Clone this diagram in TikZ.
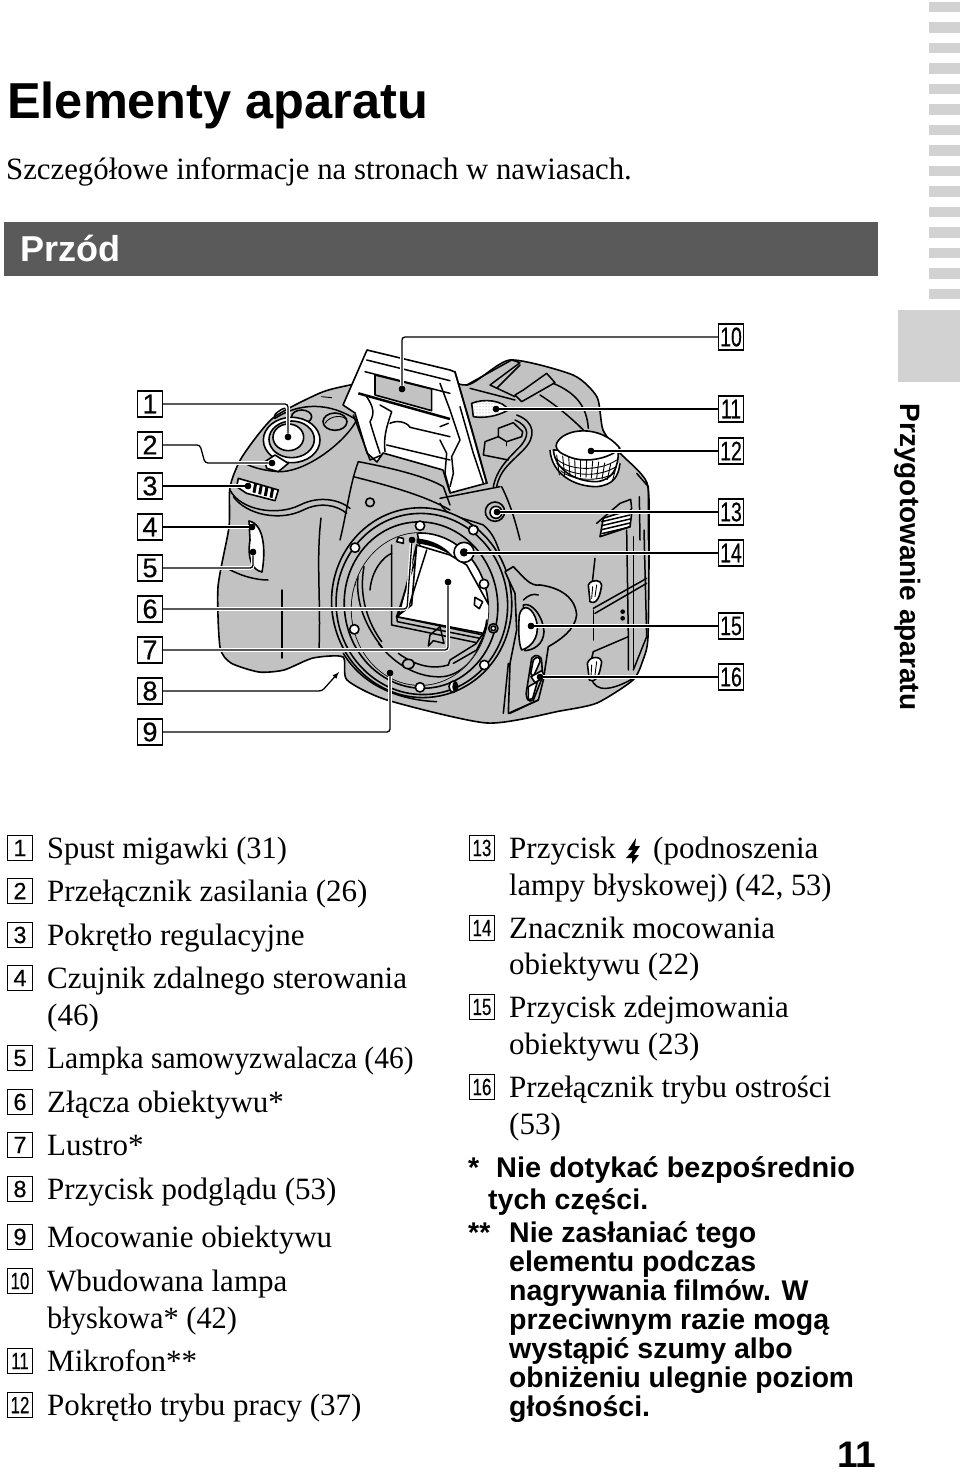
\documentclass[tikz,border=0pt]{standalone}
\usepackage{fontspec}
\usetikzlibrary{patterns}
\setmainfont{Liberation Serif}
\setsansfont{Liberation Sans}
\newfontfamily\numfont[FakeBold=.35]{Liberation Sans}
\definecolor{bargray}{HTML}{5A5A5A}
\definecolor{tabgray}{HTML}{D2D2D2}
\definecolor{camgray}{HTML}{C2C2C2}
\tikzset{
	callout/.style={draw,line width=1.2pt,minimum width=25pt,minimum height=26pt,inner sep=0pt,font=\numfont\fontsize{27}{27}\selectfont},
	listbox/.style={draw,line width=.9pt,minimum width=25pt,minimum height=24.5pt,inner sep=0pt,font=\numfont\fontsize{23.5}{23.5}\selectfont},
	listtext/.style={anchor=base west,inner sep=0pt,font=\fontsize{31}{31}\selectfont},
	notetext/.style={anchor=base west,inner sep=0pt,font=\sffamily\bfseries\fontsize{28.5}{28.5}\selectfont},
	tipdot/.style={circle,fill,inner sep=0pt,minimum size=6.5pt},
	leader/.style={line width=1.3pt,rounded corners=3pt,preaction={draw=white,line width=3.6pt}},
	cam/.style={draw,line width=1.6pt,line join=round,fill=camgray},
	camwhite/.style={draw,line width=1.6pt,line join=round,fill=white},
	camline/.style={draw,line width=1.5pt,line cap=round,line join=round},
	thinline/.style={draw,line width=.9pt,line cap=round},
	zoomA/.style={shift={(210,340)},scale=1/3},
	zoomB/.style={shift={(440,340)},scale=1/3},
	zoomC/.style={shift={(320,510)},scale=1/3},
	zoomD/.style={shift={(500,530)},scale=1/3}
}
\newcommand{\nar}[1]{\scalebox{.72}[1]{#1}}
\begin{document}
\begin{tikzpicture}[x=1pt,y=-1pt]
\useasboundingbox (0,0) rectangle (960,1475);
% page furniture
\foreach \i in {0,...,14}
	\fill[tabgray] (929,{1.7+20.5*\i}) rectangle (960,{12.4+20.5*\i});
\fill[tabgray] (898,310) rectangle (960,382);
\node[rotate=-90,font=\sffamily\bfseries\fontsize{28}{28}\selectfont,inner sep=0pt] (side) at (908,557) {Przygotowanie aparatu};
\node[anchor=base west,inner sep=0pt,font=\sffamily\bfseries\fontsize{50.5}{50.5}\selectfont] (title) at (7,118) {Elementy aparatu};
\node[listtext] (sub) at (6,179) {\scalebox{.993}[1]{Szczegółowe informacje na stronach w nawiasach.}};
\fill[bargray] (4,222) rectangle (878,276);
\node[anchor=base west,inner sep=0pt,text=white,font=\sffamily\bfseries\fontsize{36}{36}\selectfont] (front) at (20,261) {Przód};
\node[anchor=base,inner sep=0pt,font=\sffamily\bfseries\fontsize{37}{37}\selectfont] (page) at (857,1467) {11};

% camera body
\path[cam] plot[smooth cycle,tension=.4] coordinates {(273,418) (320,393) (350,385) (420,372) (467,385) (510,360) (573,375) (597,397) (603,430) (620,453) (647,483) (649,540) (648,637) (643,660) (633,680) (597,703) (560,711) (487,723) (387,700) (347,680) (343,657) (313,658) (284,670) (259,672) (231,663) (220,647) (218,587) (229,527) (230,487) (242,457)};

% right shoulder
\begin{scope}[zoomB]
\draw[camline] (80,135) -- (215,60) -- (240,68) -- (150,135) -- (225,170);
\draw[camline] (170,145) -- (240,75);
\draw[camline] (225,165) -- (245,185) -- (345,128) -- (320,100) -- (250,150) -- cycle;
\draw[camline] (90,145) -- (225,180);
\draw[camline] (340,130) .. controls (410,160) and (440,200) .. (445,265);
\draw[camline] (300,165) .. controls (340,190) and (390,230) .. (430,270);
\path[camwhite] (95,190) .. controls (130,175) and (190,180) .. (205,210) .. controls (170,230) and (130,235) .. (100,230) -- cycle;
\fill[pattern=dots,pattern color=gray] (95,190) .. controls (130,175) and (190,180) .. (205,210) .. controls (170,230) and (130,235) .. (100,230) -- cycle;
\draw[camline] (230,225) .. controls (285,245) and (290,290) .. (250,330) .. controls (210,370) and (180,390) .. (170,440);
\draw[camline] (225,240) .. controls (270,260) and (270,290) .. (235,325) .. controls (200,360) and (170,390) .. (160,440);
\draw[camline] (175,265) -- (220,248) -- (248,275) -- (245,290) -- (200,305) -- (175,290) -- cycle;
\draw[camline] (175,290) -- (135,305) -- (130,345) -- (205,360);
\draw[thinline] (200,305) -- (200,318);
% mode dial
\path[camwhite] (330,330) .. controls (335,400) and (400,440) .. (470,440) .. controls (520,435) and (535,410) .. (540,370);
\path[camwhite] (340,330) .. controls (345,385) and (400,425) .. (470,425) .. controls (520,420) and (535,380) .. (535,335) -- cycle;
\foreach \k in {0,...,10}
	\draw[thinline] ({350+18*\k},{345+\k*3}) -- ({358+16*\k},{405+\k*1.5});
\draw[thinline] (343,350) .. controls (380,395) and (480,395) .. (530,360);
\draw[thinline] (350,370) .. controls (390,412) and (480,412) .. (528,380);
\draw[thinline] (362,392) .. controls (400,425) and (480,425) .. (522,400);
\path[camwhite] (350,310) .. controls (370,265) and (480,250) .. (540,325) .. controls (510,355) and (430,375) .. (375,345) .. controls (350,335) and (345,320) .. cycle;
% strap lug
\draw[camline] (470,550) -- (540,490) -- (572,478) -- (575,505) -- (550,540);
\path[camwhite] (490,535) .. controls (520,525) and (560,510) .. (575,520) -- (570,560) -- (480,590) -- cycle;
\foreach \k in {0,...,3}
	\draw[camline] ({485},{545+\k*12}) -- (570,{525+\k*12});
\draw[camline] (590,400) -- (625,440) -- (625,600);
\draw[camline] (598,470) -- (600,600);
% flash button
\path[cam] (165,515) circle [radius=29];
\path[camwhite] (168,517) circle [radius=18];
\draw[camline] (185,440) .. controls (215,500) and (230,560) .. (240,600);
\end{scope}

% left shoulder
\begin{scope}[zoomA]
\draw[thinline] (335,170) -- (365,173);
\draw[camline] (195,235) .. controls (290,175) and (380,200) .. (440,240) .. controls (410,300) and (300,390) .. (215,395) .. controls (180,395) and (130,385) .. (105,370);
\draw[camline] (195,235) .. controls (185,225) and (215,205) .. (225,205);
\path[cam] (275,230) ellipse [x radius=30,y radius=20];
\path[cam] (375,245) ellipse [x radius=36,y radius=26];
\draw[thinline] (345,250) .. controls (360,225) and (400,225) .. (408,238);
\path[camwhite] (245,300) ellipse [x radius=85,y radius=68];
\path[cam] (245,298) ellipse [x radius=68,y radius=55];
\path[camwhite] (235,292) ellipse [x radius=46,y radius=40];
\path[camwhite] (165,365) -- (195,345) -- (235,370) -- (205,395) -- (170,385) -- cycle;
\path[camwhite] (85,415) -- (205,450) -- (195,482) -- (110,460) -- (80,440) -- cycle;
\foreach \k in {0,...,3}
	\draw[line width=3pt] ({137+17*\k},{430+5*\k}) -- ({132+17*\k},{458+5*\k});
\draw[camline] (60,450) .. controls (90,510) and (200,530) .. (270,495) .. controls (330,465) and (390,480) .. (420,505);
\draw[camline] (70,470) .. controls (110,525) and (210,545) .. (280,510) .. controls (330,485) and (380,495) .. (410,520);
\end{scope}

% grip
\path[camwhite] (249,521) .. controls (264,524) and (266,550) .. (262,572) .. controls (252,570) and (247,558) .. (250,540) -- cycle;
\draw[camline] (321,518) .. controls (316,560) and (321,600) .. (319,650);
\draw[camline] (282,590) -- (282,658);
\draw[camline] (225,567) .. controls (240,576) and (256,580) .. (268,580);

% right side
\begin{scope}[zoomD]
\draw[camline] (285,85) -- (275,175);
\draw[camline] (280,235) -- (440,145);
\draw[camline] (285,250) -- (440,160);
\draw[camline] (280,240) -- (280,330);
\draw[camline] (280,365) -- (385,320);
\draw[camline] (280,365) -- (275,385);
\draw[camline] (380,0) -- (385,320) -- (385,420);
\draw[camline] (400,20) -- (400,415);
\draw[camline] (432,0) -- (440,320) -- (400,420);
\draw[camline] (275,445) .. controls (285,490) and (340,480) .. (400,445);
\path[camwhite] (265,165) .. controls (275,145) and (305,150) .. (305,165) .. controls (300,200) and (290,225) .. (270,215) -- cycle;
\draw[thinline] (278,170) -- (275,205) (290,165) -- (285,200);
\path[camwhite] (262,400) .. controls (270,375) and (305,380) .. (305,395) .. controls (300,430) and (290,460) .. (268,450) -- cycle;
\draw[thinline] (275,405) -- (273,440) (290,395) -- (285,435);
\fill (368,245) circle [radius=7];
\fill (368,265) circle [radius=7];
\end{scope}

% front plate
\begin{scope}[zoomA]
\draw[camline] (445,365) .. controls (550,385) and (650,410) .. (700,440) -- (720,495);
\draw[camline] (445,365) .. controls (420,430) and (410,520) .. (390,600);
\draw[camline] (430,410) .. controls (550,440) and (650,470) .. (720,510);
\path[cam] (480,487) circle [radius=13];
\end{scope}
\begin{scope}[zoomB]
\draw[camline] (0,475) -- (180,440);
\draw[camline] (0,490) .. controls (20,530) and (60,530) .. (130,555) .. controls (160,580) and (170,610) .. (180,640);
\path[cam] (102,570) circle [radius=13];
\end{scope}

% flash
\path[camwhite] (343,405) -- (367,350) -- (450,370) -- (455,372) -- (472,430) -- (487,483) -- (450,493) -- (443,470) -- (383,453) -- (377,462) -- (367,453) -- (355,413) -- cycle;
\begin{scope}[zoomA]
\path[cam] (495,105) -- (665,147) -- (665,212) -- (495,165) -- cycle;
\draw[camline] (470,60) -- (720,122);
\draw[camline] (465,95) -- (720,160);
\draw[line width=2.5pt] (445,160) -- (720,237);
\draw[camline] (470,170) .. controls (490,200) and (495,220) .. (480,245) .. controls (490,280) and (500,310) .. (510,340);
\draw[camline] (510,195) -- (545,215) .. controls (530,260) and (520,290) .. (525,335);
\draw[camline] (540,250) .. controls (560,240) and (590,245) .. (600,262) -- (720,290);
\draw[camline] (530,315) -- (720,360);
\draw[camline] (430,225) -- (480,360) -- (515,345);
\end{scope}
\begin{scope}[zoomB]
\draw[camline] (45,95) -- (95,270) -- (140,430);
\draw[camline] (60,200) -- (100,340) -- (130,430);
\draw[camline] (0,130) -- (30,210) -- (60,300) -- (35,350) -- (40,400) -- (30,440);
\draw[camline] (0,260) -- (25,250) (0,300) -- (20,340) -- (15,400) -- (30,455);
\end{scope}

% lens mount
\begin{scope}[zoomC]
\path[cam,rotate around={8:(305,278)}] (305,278) ellipse [x radius=270,y radius=285];
\path[cam,rotate around={8:(305,278)}] (305,282) ellipse [x radius=257,y radius=272];
\draw[camline] (70,430) .. controls (130,530) and (240,570) .. (350,575);
\path[cam,rotate around={8:(305,285)}] (303,285) ellipse [x radius=230,y radius=250];
\path[camwhite] (300,297) ellipse [x radius=205,y radius=228];
\begin{scope}
\clip (300,297) ellipse [x radius=205,y radius=228];
\path[cam] (80,60) -- (290,60) -- (300,110) -- (230,320) -- (490,375) -- (540,330) -- (540,540) -- (80,540) -- cycle;
\path[camwhite] (290,105) -- (390,135) -- (440,165) -- (515,300) -- (490,370) -- (230,320) -- (275,285) -- cycle;
\draw[camline] (215,105) -- (215,345) -- (470,398) -- (490,370);
\draw[camline] (230,320) -- (232,335) -- (480,385);
\draw[camline] (290,105) -- (235,320);
\draw[camline] (320,120) -- (268,285) -- (230,320);
\draw[camline] (105,225) .. controls (110,170) and (150,110) .. (225,80);
\draw[camline] (118,170) .. controls (100,260) and (130,340) .. (185,410);
\draw[camline] (132,170) .. controls (115,260) and (145,340) .. (185,395);
\draw[camline] (150,240) .. controls (155,180) and (190,140) .. (215,130);
\draw[camline] (175,400) .. controls (230,470) and (300,505) .. (370,500) .. controls (440,490) and (490,420) .. (500,330);
\draw[camline] (235,430) .. controls (290,470) and (340,478) .. (385,465) -- (390,450) -- (470,400);
\draw[camline] (400,460) -- (470,420) -- (490,380);
\draw[camline] (330,375) -- (360,350) -- (372,400) -- (340,392) -- (325,408) -- (330,375);
\path[cam] (265,462) ellipse [x radius=18,y radius=14];
\path[camwhite] (465,262) -- (488,275) -- (478,296) -- (463,285) -- cycle;
\path[camwhite] (230,95) -- (235,82) -- (250,85) -- (250,100) -- cycle;
\fill (290,85) .. controls (340,90) and (375,110) .. (398,138) .. controls (360,115) and (330,105) .. (290,100) -- cycle;
\end{scope}
\foreach \a/\b in {300/47,105/113,492/222,493/465,300/532,103/358}
	\path[camwhite] (\a,\b) circle [radius=14];
\path[cam] (520,355) circle [radius=14];
\path[camwhite] (520,355) circle [radius=7];
\path[camwhite] (460,60) circle [radius=14];
\path[camwhite] (400,530) ellipse [x radius=13,y radius=17];
\fill (404,530) ellipse [x radius=7,y radius=15];
\path[camwhite] (432,127) circle [radius=30];
\path[camwhite] (432,127) circle [radius=10];
\end{scope}

% release button and focus switch
\begin{scope}[zoomD]
\path[cam] (15,125) -- (40,110) .. controls (70,140) and (90,170) .. (120,165) .. controls (160,170) and (225,190) .. (230,255) .. controls (225,300) and (180,330) .. (145,350) -- (130,450) -- (115,510) -- (25,550) -- (30,400) -- (50,300) -- (45,190) -- cycle;
\draw[camline] (70,210) .. controls (85,195) and (100,190) .. (115,195);
\path[cam] (70,225) .. controls (95,215) and (130,260) .. (132,305) .. controls (130,345) and (100,360) .. (75,362) -- cycle;
\path[camwhite] (58,255) .. controls (65,225) and (90,225) .. (105,260) .. controls (125,310) and (100,350) .. (65,360) .. controls (55,340) and (55,290) .. cycle;
\path[cam] (95,385) .. controls (105,370) and (125,375) .. (125,395) -- (128,440) -- (100,510) .. controls (85,520) and (75,505) .. (80,480) -- cycle;
\path[camwhite] (100,390) .. controls (110,378) and (122,380) .. (120,395) -- (100,440) -- (92,430) -- cycle;
\path[camwhite] (85,470) -- (112,455) -- (98,505) -- (85,510) -- cycle;
\path[camwhite] (93,440) -- (125,422) -- (135,440) -- (105,458) -- cycle;
\draw[camline] (30,550) -- (115,510);
\draw[camline] (25,400) -- (10,550);
\end{scope}

% callouts
\foreach \n/\y in {1/404,2/445,3/486,4/527,5/568,6/609,7/650,8/691,9/732}
	\node[callout] (c\n) at (150,\y) {\n};
\foreach \n/\y in {10/337,11/409,12/451,13/512,14/553,15/626,16/677}
	\node[callout] (c\n) at (731,\y) {\nar{\n}};
\foreach \n/\x/\y in {1/288/437,2/272/463,3/248/486,4/252/527,5/253/552,6/412/540,7/448/582,9/390/673,10/402/389,11/496/409,12/591/451,13/497/512,14/464/553,15/531/626,16/540/677}
	\node[tipdot] (d\n) at (\x,\y) {};
\coordinate (d8) at (339,672);
\draw[leader] (c1.east) -| (d1);
\draw[leader] (c2.east) -- (200,445) -- (205,463) -- (d2);
\draw[leader] (c3) -- (d3);
\draw[leader] (c4) -- (d4);
\draw[leader] (c5.east) -| (d5);
\draw[leader] (c6.east) -- (407,609) -- (d6);
\draw[leader] (c7.east) -| (d7);
\draw[leader,-latex] (c8.east) -- (322,691) -- (d8);
\draw[leader] (c9.east) -| (d9);
\draw[leader] (c10.west) -| (d10);
\draw[leader] (c11) -- (d11);
\draw[leader] (c12) -- (d12);
\draw[leader] (c13) -- (d13);
\draw[leader] (c14) -- (d14);
\draw[leader] (c15) -- (d15);
\draw[leader] (c16) -- (d16);
% dots back over the halos
\foreach \n in {1,2,3,4,5,6,7,9,10,11,12,13,14,15,16}
	\fill (d\n) circle [radius=3.2];

% left list
\foreach \n/\y/\t in {1/848/\scalebox{.98}[1]{Spust migawki (31)},2/891/Przełącznik zasilania (26),3/935/Pokrętło regulacyjne,4/978/Czujnik zdalnego sterowania,5/1058/\scalebox{.95}[1]{Lampka samowyzwalacza (46)},6/1102/Złącza obiektywu*,7/1145/Lustro*,8/1189/Przycisk podglądu (53),9/1237/Mocowanie obiektywu,10/1281/Wbudowana lampa,11/1361/Mikrofon**,12/1405/Pokrętło trybu pracy (37)} {
	\node[listbox] (b\n) at (20,\y) {\ifnum\n>9 \nar{\n}\else\n\fi};
	\node[listtext] (t\n) at (47,\y+10) {\t};
}
\node[listtext] (t4b) at (47,1025) {(46)};
\node[listtext] (t10b) at (47,1328) {\scalebox{.98}[1]{błyskowa* (42)}};

% right list
\foreach \n/\y/\t in {13/848/Przycisk,14/928/Znacznik mocowania,15/1007/Przycisk zdejmowania,16/1087/Przełącznik trybu ostrości} {
	\node[listbox] (b\n) at (482,\y) {\nar{\n}};
	\node[listtext] (t\n) at (509,\y+10) {\t};
}
\fill (636,838) -- (628,850) -- (633,850) -- (626,858) -- (632,858) -- (632,864) -- (639,855) -- (634,855) -- (640,846) -- (635,846) -- cycle;
\node[listtext] (t13a) at (653,858) {(podnoszenia};
\node[listtext] (t13b) at (509,895) {\scalebox{.98}[1]{lampy błyskowej) (42, 53)}};
\node[listtext] (t14b) at (509,974) {obiektywu (22)};
\node[listtext] (t15b) at (509,1054) {obiektywu (23)};
\node[listtext] (t16b) at (509,1134) {(53)};

% notes
\node[notetext] (n1) at (468,1177) {*};
\node[notetext] (n1a) at (496,1177) {\scalebox{1.016}[1]{Nie dotykać bezpośrednio}};
\node[notetext] (n1b) at (488,1209) {tych części.};
\node[notetext] (n2) at (468,1242) {**};
\foreach \y/\t in {1242/Nie zasłaniać tego,1271/elementu podczas,1300/nagrywania filmów. W,1329/przeciwnym razie mogą,1358/wystąpić szumy albo,1387/\scalebox{.99}[1]{obniżeniu ulegnie poziom},1416/głośności.}
	\node[notetext] (n\y) at (509,\y) {\t};
\end{tikzpicture}
\end{document}
